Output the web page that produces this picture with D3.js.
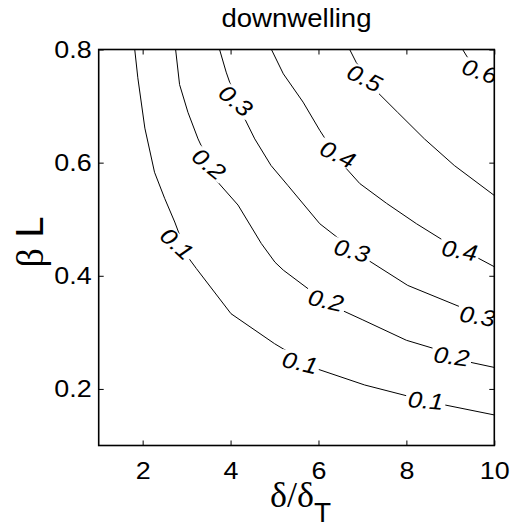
<!DOCTYPE html>
<html>
<head>
<meta charset="utf-8">
<script src="https://cdn.jsdelivr.net/npm/d3@7"></script>
<style>
  body { margin: 0; background: #fff; }
  text { font-family: "Liberation Sans", Arial, sans-serif; }
</style>
</head>
<body>
<div id="chart"></div>
<script>
// contour levels and traced contour lines, [delta/deltaT, beta L]
const levels = [0.1, 0.2, 0.3, 0.4, 0.5, 0.6];

const c01 = [[1.82,0.8],[1.89,0.75],[2.05,0.661],[2.27,0.583],[2.5,0.537],[2.73,0.495],
             [3.03,0.433],[3.22,0.413],[4.01,0.333],[5.0,0.28],[5.3,0.266],[5.83,0.239],
             [7.05,0.207],[8.1,0.186],[8.79,0.173],[10,0.154]];
const c02 = [[2.75,0.8],[2.84,0.738],[3.03,0.689],[3.26,0.642],[3.35,0.627],[3.67,0.569],
             [4.17,0.525],[4.7,0.457],[5.01,0.424],[5.2,0.41],[5.8,0.375],[6.45,0.342],
             [7.01,0.322],[8.0,0.286],[8.6,0.272],[9.4,0.248],[10,0.238]];
const c03 = [[3.75,0.8],[3.9,0.76],[3.98,0.742],[4.32,0.678],[4.55,0.642],[4.92,0.595],
             [5.3,0.56],[6.03,0.492],[6.41,0.469],[7.08,0.43],[8.03,0.383],[9.32,0.342],[10,0.318]];
const c04 = [[4.93,0.8],[5.2,0.757],[5.65,0.707],[6.03,0.657],[6.18,0.639],[6.64,0.589],
             [6.94,0.563],[7.55,0.528],[8.23,0.492],[8.83,0.463],[9.59,0.433],[10,0.416]];
const c05 = [[6.71,0.8],[6.86,0.777],[7.31,0.727],[7.8,0.689],[8.41,0.642],[9.09,0.595],[10,0.542]];
const c06 = [[9.28,0.8],[9.39,0.786],[10,0.739]];

const contourLines = [c01, c02, c03, c04, c05, c06];

// inline labels: [level, x, y]
const contourLabels = [
  [0.1, 2.78, 0.457], [0.1, 5.58, 0.247], [0.1, 8.44, 0.180],
  [0.2, 3.51, 0.598], [0.2, 6.17, 0.357], [0.2, 9.03, 0.258],
  [0.3, 4.12, 0.710], [0.3, 6.76, 0.445], [0.3, 9.62, 0.329],
  [0.4, 6.44, 0.615], [0.4, 9.21, 0.445],
  [0.5, 7.05, 0.750],
  [0.6, 9.67, 0.762]
];

const xTicks = [2, 4, 6, 8, 10];
const yTicks = [0.2, 0.4, 0.6, 0.8];

const width = 512, height = 527;
const margins = {l: 98.7, r: 17.7, t: 49.5, b: 81.5};
const w = width - margins.l - margins.r;
const h = height - margins.t - margins.b;
const text_stretch = 1.12;

const xScale = d3.scaleLinear().domain([1, 10]).range([0, w]);
const yScale = d3.scaleLinear().domain([0.1, 0.8]).range([h, 0]);

// the reference font runs a bit wide, stretch glyphs horizontally
function stretch(selection, k){
  selection.each(function(){
    let len = this.getComputedTextLength();
    d3.select(this).attr("textLength", len * k).attr("lengthAdjust", "spacingAndGlyphs");
  });
}

const svg = d3.select("#chart").append("svg")
  .attr("width", width).attr("height", height);

svg.append("defs").append("clipPath").attr("id", "plotclip")
  .append("rect").attr("width", w).attr("height", h);

const root_g = svg.append("g")
  .attr("transform", `translate(${margins.l}, ${margins.t})`);

// contour lines
const line = d3.line().x(d => xScale(d[0])).y(d => yScale(d[1]));
const plot_g = root_g.append("g").attr("clip-path", "url(#plotclip)");

plot_g.selectAll("path.contour")
  .data(contourLines)
  .enter().append("path")
  .attr("class", "contour")
  .attr("d", line)
  .attr("fill", "none")
  .attr("stroke", "black")
  .attr("stroke-width", 1);

// labels, rotated along the line
function labelAngle(level, px, py){
  let pts = contourLines[levels.indexOf(level)].map(d => [xScale(d[0]), yScale(d[1])]);
  let best = null, bestDist = Infinity;
  for (let i = 0; i < pts.length - 1; i++){
    let [x0, y0] = pts[i], [x1, y1] = pts[i + 1];
    let dx = x1 - x0, dy = y1 - y0;
    let t = Math.max(0, Math.min(1, ((px - x0) * dx + (py - y0) * dy) / (dx * dx + dy * dy)));
    let qx = x0 + t * dx, qy = y0 + t * dy;
    let dist = Math.hypot(px - qx, py - qy);
    if (dist < bestDist){ bestDist = dist; best = [dx, dy]; }
  }
  let theta = Math.atan2(best[1], best[0]);
  return Math.atan(0.35 * Math.tan(theta)) * 180 / Math.PI;
}

let labels = plot_g.selectAll("g.clabel")
  .data(contourLabels)
  .enter().append("g")
  .attr("class", "clabel")
  .attr("transform", d => {
    let px = xScale(d[1]), py = yScale(d[2]);
    return `translate(${px}, ${py}) rotate(${labelAngle(d[0], px, py)})`;
  });

let rects = labels.append("rect").attr("fill", "white");
let texts = labels.append("text")
  .text(d => d[0].toFixed(1))
  .attr("text-anchor", "middle")
  .attr("dy", "0.36em")
  .attr("font-size", "23px")
  .attr("font-style", "italic")
  .attr("fill", "black")
  .call(stretch, text_stretch);

texts.each(function(){
  let bb = this.getBBox();
  d3.select(this.previousSibling)
    .attr("x", -bb.width / 2 - 2).attr("y", -9)
    .attr("width", bb.width + 4).attr("height", 18);
});

// axes with inward ticks on all sides
const xAxis = d3.axisBottom(xScale).tickValues(xTicks).tickSizeInner(-5).tickSizeOuter(0).tickPadding(16.5);
const yAxis = d3.axisLeft(yScale).tickValues(yTicks).tickSizeInner(-5).tickSizeOuter(0).tickPadding(7).tickFormat(d3.format(".1f"));

function style_axis(g){
  g.select(".domain").remove();
  g.selectAll("line").attr("stroke", "black").attr("stroke-width", 1);
  g.selectAll("text").attr("font-size", "24px").attr("fill", "black")
    .attr("font-family", "'Liberation Sans', Arial, sans-serif")
    .call(stretch, text_stretch);
}

root_g.append("g").attr("transform", `translate(0, ${h})`).call(xAxis).call(style_axis);
root_g.append("g").call(yAxis).call(style_axis);
root_g.append("g").call(d3.axisTop(xScale).tickValues(xTicks).tickSizeInner(-5).tickSizeOuter(0).tickFormat(""))
  .call(style_axis);
root_g.append("g").attr("transform", `translate(${w}, 0)`)
  .call(d3.axisRight(yScale).tickValues(yTicks).tickSizeInner(-5).tickSizeOuter(0).tickFormat(""))
  .call(style_axis);

root_g.append("rect")
  .attr("width", w).attr("height", h)
  .attr("fill", "none").attr("stroke", "black").attr("stroke-width", 1.6);

// title
svg.append("text")
  .attr("x", margins.l + w / 2).attr("y", 26.7)
  .attr("text-anchor", "middle")
  .attr("font-size", "25.5px")
  .text("downwelling")
  .call(stretch, 1.08);

// x label: delta / delta_T
let xl = svg.append("text")
  .attr("x", margins.l + w / 2 + 4).attr("y", 506.7)
  .attr("text-anchor", "middle");
xl.append("tspan").attr("font-family", "'Liberation Serif', 'Times New Roman', serif")
  .attr("font-size", "36px").text("δ/δ");
xl.append("tspan").attr("font-size", "28px").attr("dy", 15).text("T");

// y label: beta L
svg.append("text")
  .attr("transform", `translate(42.7, 242) rotate(-90)`)
  .attr("text-anchor", "middle")
  .call(t => {
    t.append("tspan").attr("font-family", "'Liberation Serif', 'Times New Roman', serif")
      .attr("font-size", "38px").text("β");
    t.append("tspan").attr("font-size", "38px").text(" L");
  });
</script>
</body>
</html>
